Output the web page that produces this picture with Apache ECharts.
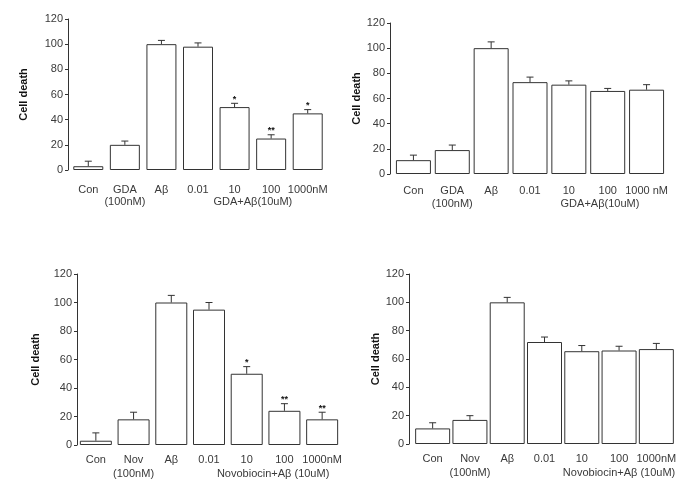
<!DOCTYPE html>
<html><head><meta charset="utf-8">
<script src="https://cdn.jsdelivr.net/npm/echarts@6/dist/echarts.min.js"></script>
<style>html,body{margin:0;padding:0;background:#fff}#c{width:697px;height:488px}</style>
</head><body><div id="c"></div>
<script>
// ---- data ----
const yTicks = [0, 20, 40, 60, 80, 100, 120];
const cats1 = ['Con', 'GDA\n(100nM)', 'Aβ', '0.01', '10', '100', '1000nM'];
const vals1 = [3, 20, 100, 98, 50, 25, 45];
const errs1 = [4, 3, 3, 3, 3, 3, 3];
const stars1 = ['', '', '', '', '*', '**', '*'];
const group1 = 'GDA+Aβ(10uM)';

const cats2 = ['Con', 'GDA\n(100nM)', 'Aβ', '0.01', '10', '100', '1000 nM'];
const vals2 = [11, 19, 100, 73, 71, 66, 67];
const errs2 = [4, 4, 5, 4, 3, 2, 4];
const stars2 = ['', '', '', '', '', '', ''];
const group2 = 'GDA+Aβ(10uM)';

const cats3 = ['Con', 'Nov\n(100nM)', 'Aβ', '0.01', '10', '100', '1000nM'];
const vals3 = [3, 18, 100, 95, 50, 24, 18];
const errs3 = [5.5, 5, 5, 5, 5, 5, 5];
const stars3 = ['', '', '', '', '*', '**', '**'];
const group3 = 'Novobiocin+Aβ (10uM)';

const cats4 = ['Con', 'Nov\n(100nM)', 'Aβ', '0.01', '10', '100', '1000nM'];
const vals4 = [11, 17, 100, 72, 65.5, 66, 67];
const errs4 = [4, 3, 3.5, 3.5, 4, 3, 4];
const stars4 = ['', '', '', '', '', '', ''];
const group4 = 'Novobiocin+Aβ (10uM)';

const yName = 'Cell death';

// ---- layout ----
const panels = [
  {cats: cats1, vals: vals1, errs: errs1, stars: stars1, group: group1,
   left: 70, top: 19, width: 256, height: 151, offset: 2, barWidth: 30, nameGap: 39, margin: 14, lh: 12, groupAt: 4.5},
  {cats: cats2, vals: vals2, errs: errs2, stars: stars2, group: group2,
   left: 394, top: 23, width: 272, height: 151, offset: 4, barWidth: 35, nameGap: 28, margin: 10, lh: 13, groupAt: 4.8},
  {cats: cats3, vals: vals3, errs: errs3, stars: stars3, group: group3,
   left: 77, top: 274, width: 264, height: 171, offset: 0, barWidth: 32, nameGap: 36, margin: 8, lh: 14, groupAt: 4.7},
  {cats: cats4, vals: vals4, errs: errs4, stars: stars4, group: group4,
   left: 414, top: 274, width: 261, height: 170, offset: 5, barWidth: 35, nameGap: 28, margin: 8, lh: 14, groupAt: 5.0}
];

const FONT = 'Liberation Sans, Arial, sans-serif';
const TXT = '#3a3a3a';
const grid = [], xAxis = [], yAxis = [], series = [];

panels.forEach((p, i) => {
  grid.push({left: p.left, top: p.top, width: p.width, height: p.height});
  xAxis.push({
    type: 'category', gridIndex: i, data: p.cats,
    axisLine: {show: false}, axisTick: {show: false},
    axisLabel: {margin: p.margin, fontFamily: FONT, fontSize: 11, color: TXT, lineHeight: p.lh, interval: 0}
  });
  yAxis.push({
    type: 'value', gridIndex: i, min: yTicks[0], max: yTicks[yTicks.length - 1], interval: yTicks[1] - yTicks[0],
    offset: p.offset,
    name: yName, nameLocation: 'middle', nameGap: p.nameGap,
    nameTextStyle: {fontFamily: FONT, fontSize: 11, fontWeight: 'bold', color: '#111'},
    axisLine: {show: true, lineStyle: {color: '#333', width: 1}},
    axisTick: {show: true, length: 3, lineStyle: {color: '#333'}},
    splitLine: {show: false},
    axisLabel: {margin: 5, fontFamily: FONT, fontSize: 11, color: TXT}
  });
  series.push({
    type: 'bar', xAxisIndex: i, yAxisIndex: i, data: p.vals, barWidth: p.barWidth,
    itemStyle: {color: '#fff', borderColor: '#333', borderWidth: 1},
    silent: true, animation: false
  });
  series.push({
    type: 'custom', xAxisIndex: i, yAxisIndex: i, clip: false, animation: false, z: 5,
    data: p.vals.map((v, k) => [k, v, v + p.errs[k]]),
    renderItem: (params, api) => {
      const k = api.value(0);
      const top = api.coord([k, api.value(1)]);
      const up = api.coord([k, api.value(2)]);
      const children = [
        {type: 'line', shape: {x1: top[0], y1: top[1], x2: up[0], y2: up[1]}, style: {stroke: '#333', lineWidth: 1}},
        {type: 'line', shape: {x1: up[0] - 3.5, y1: up[1], x2: up[0] + 3.5, y2: up[1]}, style: {stroke: '#333', lineWidth: 1}}
      ];
      const s = p.stars[k];
      if (s) {
        children.push({type: 'text', x: up[0], y: up[1] - 4,
          style: {text: s, fontSize: 9, fontWeight: 'bold', fontFamily: FONT, fill: '#111', align: 'center', verticalAlign: 'middle'}});
      }
      return {type: 'group', children};
    }
  });
  series.push({
    type: 'custom', xAxisIndex: i, yAxisIndex: i, clip: false, animation: false, silent: true,
    data: [[0, 0]],
    renderItem: (params, api) => {
      const f = Math.floor(p.groupAt);
      const a = api.coord([f, 0]);
      const b = api.coord([Math.min(f + 1, p.cats.length - 1), 0]);
      const t = p.groupAt - f;
      const x = a[0] + (b[0] - a[0]) * t;
      const y = a[1] + p.margin + p.lh * 1.5;
      return {type: 'text', x, y,
        style: {text: p.group, fontSize: 11, fontFamily: FONT, fill: TXT, align: 'center', verticalAlign: 'middle'}};
    }
  });
});

const chart = echarts.init(document.getElementById('c'), null, {renderer: 'canvas'});
chart.setOption({animation: false, backgroundColor: '#fff', grid, xAxis, yAxis, series});
</script></body></html>
